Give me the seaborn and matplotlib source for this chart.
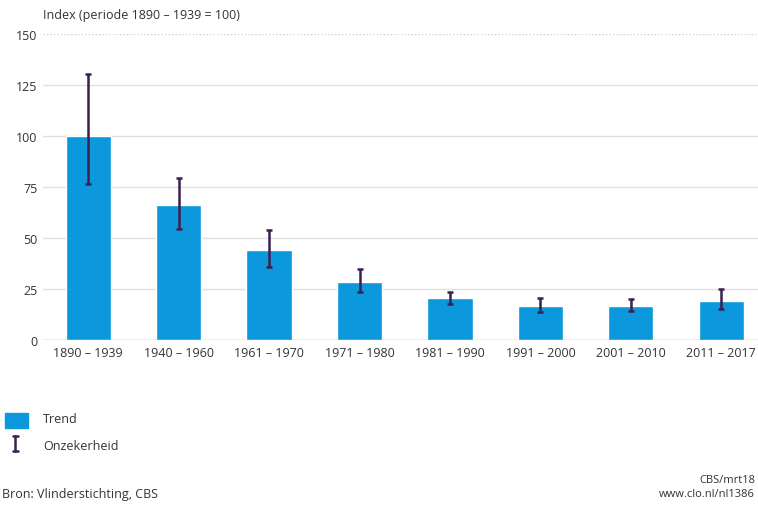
import matplotlib
matplotlib.use("Agg")
import matplotlib.pyplot as plt
import seaborn as sns
import pandas as pd
from matplotlib.patches import Rectangle
from matplotlib.lines import Line2D

categories = ["1890 – 1939", "1940 – 1960", "1961 – 1970", "1971 – 1980",
              "1981 – 1990", "1991 – 2000", "2001 – 2010", "2011 – 2017"]
trend = [100, 66, 44, 28.5, 20.5, 16.8, 16.8, 19.2]
lower = [76.5, 54.5, 36, 23.5, 17.8, 13.8, 14.2, 15.2]
upper = [130.5, 79.5, 54, 34.8, 23.5, 20.5, 20.2, 25]
yticks = [0, 25, 50, 75, 100, 125, 150]

BLUE = "#0b98dc"
ERR = "#3b1f4f"

sns.set_theme(style="white")
plt.rcParams['font.family'] = ['Open Sans', 'DejaVu Sans']

fig = plt.figure(figsize=(7.58, 5.06), dpi=100)
ax = fig.add_axes([43/758, 1 - 341/506, (771 - 43)/758, (341 - 35)/506])

df = pd.DataFrame({"periode": categories, "trend": trend})
sns.barplot(data=df, x="periode", y="trend", color=BLUE, width=0.5,
            saturation=1, ax=ax, zorder=2)

xs = list(range(len(categories)))
yerr = [[t - l for t, l in zip(trend, lower)], [u - t for t, u in zip(trend, upper)]]
ax.errorbar(xs, trend, yerr=yerr, fmt="none", ecolor=ERR, elinewidth=1.8,
            capsize=2.5, capthick=1.8, zorder=3)

ax.set_ylim(0, 150)
ax.set_xlim(-0.5, 7.55)
ax.set_yticks(yticks)
ax.set_yticklabels([str(v) for v in yticks], fontsize=9, color="#333333")
ax.set_xticks(xs)
ax.set_xticklabels(categories, fontsize=9, color="#333333")
ax.tick_params(axis="both", length=0, pad=4)
ax.set_xlabel("")
ax.set_ylabel("")
for s in ax.spines.values():
    s.set_visible(False)
for v in yticks[1:-1]:
    ax.axhline(v, color="#e0e0e0", lw=1.0, zorder=0)
ax.axhline(150, color="#d0d0d0", lw=1.0, ls=(0, (1, 1.5)), zorder=0)
ax.axhline(0, color="#888888", lw=0.9, zorder=4)

fig.text(43/758, 1 - 15/506, "Index (periode 1890 – 1939 = 100)", fontsize=9,
         color="#333333", va="center", ha="left")

# legend
fig.patches.append(Rectangle((5/758, 1 - 429/506), 23/758, 15/506,
                             transform=fig.transFigure, color=BLUE, figure=fig))
fig.text(43/758, 1 - 420/506, "Trend", fontsize=9, color="#333333", va="center")
fig.lines.append(Line2D([15/758, 15/758], [1 - 437/506, 1 - 452/506],
                        transform=fig.transFigure, color=ERR, lw=1.8, figure=fig))
for yy in (437, 452):
    fig.lines.append(Line2D([12.5/758, 17.5/758], [1 - yy/506, 1 - yy/506],
                            transform=fig.transFigure, color=ERR, lw=1.8, figure=fig))
fig.text(43/758, 1 - 447/506, "Onzekerheid", fontsize=9, color="#333333", va="center")

fig.text(2/758, 1 - 495/506, "Bron: Vlinderstichting, CBS", fontsize=9,
         color="#333333", va="center")
fig.text(755/758, 1 - 481/506, "CBS/mrt18", fontsize=8, color="#333333",
         va="center", ha="right")
fig.text(755/758, 1 - 495/506, "www.clo.nl/nl1386", fontsize=8, color="#333333",
         va="center", ha="right")

fig.savefig("out.png", dpi=100)
